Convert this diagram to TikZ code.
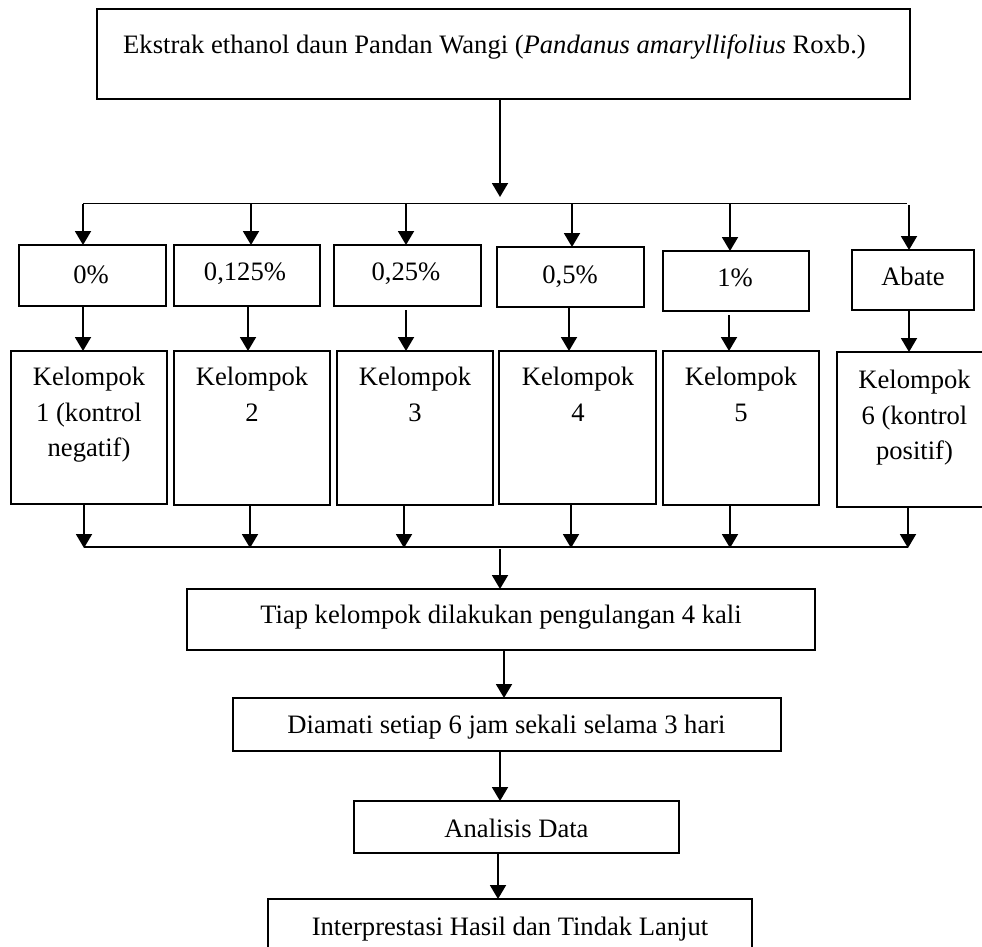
\documentclass[tikz,border=0pt]{standalone}
\usepackage{fontspec}
\setmainfont{Liberation Serif}
\usetikzlibrary{arrows.meta}
\begin{document}
\begin{tikzpicture}[x=1pt,y=-1pt,
  box/.style={draw, line width=1.6pt, inner sep=0pt, outer sep=0pt},
  txt/.style={inner sep=0pt, font=\fontsize{26.6}{35.5}\selectfont, align=center},
  conn/.style={line width=1.9pt},
  arr/.style={line width=1.9pt, -{Triangle[width=16pt,length=14pt]}}]
\useasboundingbox (0,0) rectangle (982,946);
\clip (0,0) rectangle (982,946);
% boxes
\node[box, minimum width=813pt, minimum height=90pt] (top) at (503.5,54) {};
\node[txt, anchor=base] (topt) at (494.5,53) {Ekstrak ethanol daun Pandan Wangi (\textit{Pandanus amaryllifolius} Roxb.)};
\node[box, minimum width=147pt, minimum height=61pt] (p1) at (92.5,275.5) {};
\node[box, minimum width=146pt, minimum height=61pt] (p2) at (247,275.5) {};
\node[box, minimum width=147pt, minimum height=61pt] (p3) at (407.5,275.5) {};
\node[box, minimum width=147pt, minimum height=60pt] (p4) at (570.5,277) {};
\node[box, minimum width=146pt, minimum height=60pt] (p5) at (736,281) {};
\node[box, minimum width=122pt, minimum height=60pt] (p6) at (913,280) {};
\node[txt, anchor=base] (p1t) at (91,283) {0\%};
\node[txt, anchor=base] (p2t) at (245,280) {0,125\%};
\node[txt, anchor=base] (p3t) at (406,280) {0,25\%};
\node[txt, anchor=base] (p4t) at (570,283) {0,5\%};
\node[txt, anchor=base] (p5t) at (735,286) {1\%};
\node[txt, anchor=base] (p6t) at (913,285) {Abate};
\node[box, minimum width=156pt, minimum height=153pt] (k1) at (89,427.5) {};
\node[box, minimum width=156pt, minimum height=154pt] (k2) at (252,428) {};
\node[box, minimum width=156pt, minimum height=154pt] (k3) at (415,428) {};
\node[box, minimum width=157pt, minimum height=153pt] (k4) at (577.5,427.5) {};
\node[box, minimum width=156pt, minimum height=154pt] (k5) at (741,428) {};
\node[box, minimum width=154pt, minimum height=155pt] (k6) at (914,429.5) {};
\node[txt, anchor=north] (k1t) at (89,367) {Kelompok\\1 (kontrol\\negatif)};
\node[txt, anchor=north] (k2t) at (252,367) {Kelompok\\2};
\node[txt, anchor=north] (k3t) at (415,367) {Kelompok\\3};
\node[txt, anchor=north] (k4t) at (578,367) {Kelompok\\4};
\node[txt, anchor=north] (k5t) at (741,367) {Kelompok\\5};
\node[txt, anchor=north] (k6t) at (914.5,370) {Kelompok\\6 (kontrol\\positif)};
\node[box, minimum width=628pt, minimum height=61pt] (tiap) at (501,619.5) {};
\node[txt, anchor=base] (tiapt) at (501,623) {Tiap kelompok dilakukan pengulangan 4 kali};
\node[box, minimum width=548pt, minimum height=53pt] (diam) at (507,724.5) {};
\node[txt, anchor=base] (diamt) at (506.5,733) {Diamati setiap 6 jam sekali selama 3 hari};
\node[box, minimum width=325pt, minimum height=52pt] (anal) at (516.5,827) {};
\node[txt, anchor=base] (analt) at (516.5,837) {Analisis Data};
\node[box, minimum width=484pt, minimum height=58pt] (interp) at (510,928) {};
\node[txt, anchor=base] (interpt) at (510,935) {Interprestasi Hasil dan Tindak Lanjut};
% junction coordinates
\coordinate (tip) at (500,197);
\coordinate (L1) at (83,203.5);
\coordinate (L6) at (907,203.5);
\coordinate (a1) at (83,203.5);
\coordinate (a2) at (251,203.5);
\coordinate (a3) at (406,203.5);
\coordinate (a4) at (572,203.5);
\coordinate (a5) at (730,203.5);
\coordinate (a6) at (909,205);
\coordinate (b1) at (83,0);
\coordinate (b2) at (248,0);
\coordinate (b3) at (406,0);
\coordinate (b4) at (569,0);
\coordinate (b5) at (729,0);
\coordinate (b6) at (909,0);
\coordinate (M1) at (84,547);
\coordinate (M6) at (908,547);
\coordinate (c1) at (84,548);
\coordinate (c2) at (250,548);
\coordinate (c3) at (404,548);
\coordinate (c4) at (571,548);
\coordinate (c5) at (730,548);
\coordinate (c6) at (908,548);
\coordinate (mid) at (500,549);
\coordinate (x1) at (504,0);
\coordinate (x2) at (500,0);
\coordinate (x3) at (498,0);
% connectors
\draw[arr] (top.south -| tip) -- (tip);
\draw[conn] (L1) -- (L6);
\draw[arr] (a1) -- (a1 |- p1.north);
\draw[arr] (a2) -- (a2 |- p2.north);
\draw[arr] (a3) -- (a3 |- p3.north);
\draw[arr] (a4) -- (a4 |- p4.north);
\draw[arr] (a5) -- (a5 |- p5.north);
\draw[arr] (a6) -- (a6 |- p6.north);
\draw[arr] (b1 |- p1.south) -- (b1 |- k1.north);
\draw[arr] (b2 |- p2.south) -- (b2 |- k2.north);
\draw[arr, shorten <=4pt] (b3 |- p3.south) -- (b3 |- k3.north);
\draw[arr] (b4 |- p4.south) -- (b4 |- k4.north);
\draw[arr, shorten <=4pt] (b5 |- p5.south) -- (b5 |- k5.north);
\draw[arr] (b6 |- p6.south) -- (b6 |- k6.north);
\draw[arr] (c1 |- k1.south) -- (c1);
\draw[arr] (c2 |- k2.south) -- (c2);
\draw[arr] (c3 |- k3.south) -- (c3);
\draw[arr] (c4 |- k4.south) -- (c4);
\draw[arr] (c5 |- k5.south) -- (c5);
\draw[arr] (c6 |- k6.south) -- (c6);
\draw[conn] (M1) -- (M6);
\draw[arr] (mid) -- (mid |- tiap.north);
\draw[arr] (x1 |- tiap.south) -- (x1 |- diam.north);
\draw[arr] (x2 |- diam.south) -- (x2 |- anal.north);
\draw[arr] (x3 |- anal.south) -- (x3 |- interp.north);
\end{tikzpicture}
\end{document}
